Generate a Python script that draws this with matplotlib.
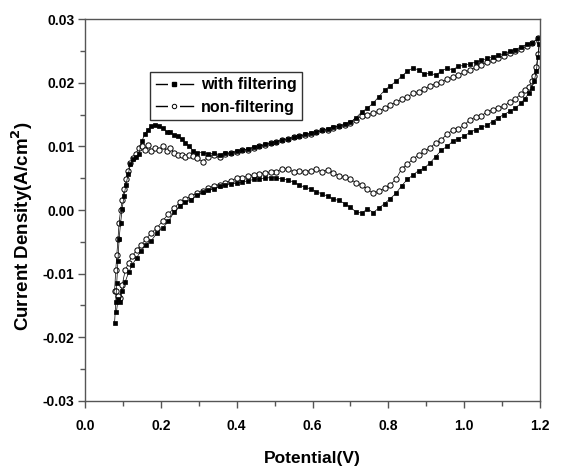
import matplotlib
matplotlib.use('Agg')
import matplotlib.pyplot as plt
from matplotlib.lines import Line2D
from matplotlib.legend_handler import HandlerTuple
from matplotlib.ticker import MultipleLocator
import numpy as np

plt.rcParams['font.family'] = ['Liberation Sans', 'DejaVu Sans']
plt.rcParams['font.weight'] = 'bold'
plt.rcParams['mathtext.default'] = 'bf'

# potentials (V) of the anodic (forward) scan
fwd_v = [0.078, 0.081, 0.084, 0.087, 0.090, 0.094, 0.098, 0.103, 0.108, 0.114,
         0.120, 0.127, 0.134, 0.142, 0.150, 0.158, 0.166, 0.175, 0.185, 0.195,
         0.205, 0.215, 0.225, 0.235, 0.245, 0.255, 0.265, 0.275, 0.285, 0.295,
         0.310, 0.325, 0.340, 0.355, 0.370, 0.385, 0.400, 0.415, 0.430, 0.445,
         0.460, 0.475, 0.490, 0.505, 0.520, 0.535, 0.550, 0.565, 0.580, 0.595,
         0.610, 0.625, 0.640, 0.655, 0.670, 0.685, 0.700, 0.715, 0.730, 0.745,
         0.760, 0.775, 0.790, 0.805, 0.820, 0.835, 0.850, 0.865, 0.880, 0.895,
         0.910, 0.925, 0.940, 0.955, 0.970, 0.985, 1.000, 1.015, 1.030, 1.045,
         1.060, 1.075, 1.090, 1.105, 1.120, 1.135, 1.150, 1.165, 1.180, 1.195]

# potentials (V) of the cathodic (reverse) scan
rev_v = [1.198, 1.195, 1.190, 1.185, 1.178, 1.170, 1.160, 1.150, 1.135, 1.120,
         1.105, 1.090, 1.075, 1.060, 1.045, 1.030, 1.015, 1.000, 0.985, 0.970,
         0.955, 0.940, 0.925, 0.910, 0.895, 0.880, 0.865, 0.850, 0.835, 0.820,
         0.805, 0.790, 0.775, 0.760, 0.745, 0.730, 0.715, 0.700, 0.685, 0.670,
         0.655, 0.640, 0.625, 0.610, 0.595, 0.580, 0.565, 0.550, 0.535, 0.520,
         0.505, 0.490, 0.475, 0.460, 0.445, 0.430, 0.415, 0.400, 0.385, 0.370,
         0.355, 0.340, 0.325, 0.310, 0.295, 0.280, 0.265, 0.250, 0.235, 0.220,
         0.205, 0.190, 0.175, 0.160, 0.148, 0.136, 0.125, 0.115, 0.106, 0.098,
         0.092, 0.087, 0.083]

# current density in mA/cm2
filt_fwd = [-17.8, -14.5, -11.5, -8.0, -4.5, -2.0, 0.2, 2.2, 4.0, 5.6,
            7.2, 8.0, 8.4, 8.8, 10.8, 12.0, 12.6, 13.2, 13.4, 13.2,
            12.9, 12.3, 12.2, 11.8, 11.6, 11.1, 10.5, 10.0, 9.3, 9.0,
            9.0, 8.8, 8.9, 8.7, 8.9, 9.0, 9.3, 9.4, 9.6, 9.9,
            10.1, 10.3, 10.5, 10.7, 11.0, 11.2, 11.4, 11.6, 11.9, 12.1,
            12.3, 12.5, 12.8, 13.0, 13.2, 13.5, 13.8, 14.5, 15.4, 16.0,
            16.8, 17.8, 18.8, 19.5, 20.2, 21.0, 21.8, 22.3, 22.0, 21.3,
            21.5, 21.2, 21.8, 22.3, 22.0, 22.6, 22.7, 23.0, 23.2, 23.5,
            23.8, 24.1, 24.3, 24.6, 24.9, 25.2, 25.6, 26.0, 26.3, 27.0]

filt_rev = [26.0, 24.0, 21.8, 20.3, 19.2, 18.3, 17.5, 16.8, 16.0, 15.5,
            15.0, 14.5, 13.9, 13.3, 13.0, 12.6, 12.2, 11.6, 11.2, 10.8,
            10.0, 9.4, 8.4, 7.4, 6.6, 6.2, 5.5, 4.8, 3.8, 2.6,
            1.8, 1.0, 0.3, -0.4, 0.2, -0.5, -0.3, 0.4, 1.0, 1.5,
            1.7, 2.2, 2.5, 2.9, 3.3, 3.6, 3.9, 4.4, 4.7, 4.9,
            5.0, 5.1, 5.0, 4.9, 4.8, 4.6, 4.4, 4.2, 4.1, 4.0,
            3.7, 3.3, 3.1, 2.8, 2.3, 1.6, 1.2, 0.6, -0.3, -1.8,
            -2.8, -3.6, -4.8, -5.5, -6.4, -7.5, -8.6, -9.8, -11.3, -12.8,
            -14.5, -14.0, -16.0]

nonf_fwd = [-12.8, -9.5, -7.0, -4.5, -2.0, 0.0, 1.5, 3.3, 4.8, 6.2,
            7.4, 8.2, 8.8, 9.8, 10.0, 9.5, 10.2, 9.3, 9.8, 9.4,
            10.0, 9.2, 9.8, 8.9, 8.7, 8.6, 8.3, 8.7, 8.5, 8.2,
            7.6, 8.4, 8.6, 8.3, 8.8, 8.9, 9.1, 9.4, 9.5, 9.7,
            10.0, 10.2, 10.5, 10.7, 11.0, 11.1, 11.4, 11.6, 11.8, 12.0,
            12.2, 12.5, 12.6, 12.9, 13.2, 13.4, 13.7, 14.2, 14.8, 15.0,
            15.2, 15.5, 16.0, 16.5, 16.9, 17.4, 17.8, 18.3, 18.6, 19.0,
            19.5, 19.8, 20.1, 20.5, 20.9, 21.2, 21.6, 22.0, 22.4, 22.8,
            23.2, 23.5, 23.9, 24.2, 24.6, 24.9, 25.3, 25.7, 26.2, 27.0]

nonf_rev = [26.5, 24.5, 22.5, 21.0, 20.2, 19.3, 18.8, 18.2, 17.5, 17.0,
            16.3, 16.0, 15.7, 15.4, 14.8, 14.6, 14.2, 13.3, 12.8, 12.5,
            12.0, 11.0, 10.5, 9.8, 9.2, 8.7, 8.0, 7.2, 6.5, 4.8,
            4.0, 3.4, 3.0, 2.6, 3.3, 3.9, 4.3, 4.8, 5.2, 5.4,
            5.8, 6.3, 6.0, 6.4, 6.2, 6.0, 6.2, 6.0, 6.4, 6.5,
            6.0, 5.9, 5.8, 5.7, 5.5, 5.3, 5.1, 5.0, 4.6, 4.3,
            4.0, 3.8, 3.4, 3.0, 2.6, 2.2, 1.7, 1.2, 0.3, -0.6,
            -1.7, -2.8, -3.6, -4.6, -5.5, -6.3, -7.2, -8.3, -9.5, -11.8,
            -13.9, -13.5, -12.8]

v = np.array(fwd_v + rev_v)
j_filt = np.array(filt_fwd + filt_rev) / 1000.0
j_nonf = np.array(nonf_fwd + nonf_rev) / 1000.0

fig = plt.figure(figsize=(5.61, 4.66), dpi=100)
ax = fig.add_axes([0.1515, 0.1395, 0.8111, 0.8197])

ax.plot(v, j_nonf, color='k', lw=0.5, marker='o', ms=3.8, mfc='white', mec='k', mew=0.7)
ax.plot(v, j_filt, color='k', lw=0.5, marker='s', ms=3.5, mfc='k', mec='k', mew=0.5)

ax.set_xlim(0.0, 1.2)
ax.set_ylim(-0.03, 0.03)
ax.xaxis.set_major_locator(MultipleLocator(0.2))
ax.xaxis.set_minor_locator(MultipleLocator(0.1))
ax.yaxis.set_major_locator(MultipleLocator(0.01))
ax.yaxis.set_minor_locator(MultipleLocator(0.005))
ax.xaxis.set_major_formatter(plt.FuncFormatter(lambda x, p: f'{x:.1f}'))
ax.yaxis.set_major_formatter(plt.FuncFormatter(lambda y, p: f'{y:.2f}'))

ax.tick_params(which='both', direction='out', top=False, right=False, color='#555555', width=1)
ax.tick_params(which='major', length=5, labelsize=10)
ax.tick_params(which='minor', length=3.5)
ax.tick_params(axis='x', which='major', pad=8)
ax.tick_params(axis='y', which='major', pad=2.5)
for s in ax.spines.values():
    s.set_color('#555555')
    s.set_linewidth(1)

ax.set_xlabel('Potential(V)', fontsize=12.5, fontweight='bold', labelpad=13)
ax.set_ylabel('Current Density(A/cm$^2$)', fontsize=13.5, fontweight='bold')
ax.yaxis.set_label_coords(-0.11, 0.458)

# legend sample: line - symbol - line, with a small gap around the symbol
handles = [(Line2D([], [], color='k', lw=1, marker='s', ms=8, mfc='white', mec='white', mew=0),
            Line2D([], [], ls='none', marker='s', ms=3.2, mfc='k', mec='k')),
           (Line2D([], [], color='k', lw=1, marker='s', ms=8, mfc='white', mec='white', mew=0),
            Line2D([], [], ls='none', marker='o', ms=3.2, mfc='white', mec='k', mew=0.7))]
leg = ax.legend(handles, ['with filtering', 'non-filtering'], loc='upper left',
                bbox_to_anchor=(0.143, 0.862), fontsize=11.5, frameon=True, fancybox=False,
                edgecolor='k', handlelength=27 / 11.5, borderpad=0.35, labelspacing=0.45,
                handletextpad=0.5, borderaxespad=0,
                handler_map={tuple: HandlerTuple(ndivide=1, pad=0)})
leg.get_frame().set_linewidth(1)

plt.savefig('out.png', dpi=100)
